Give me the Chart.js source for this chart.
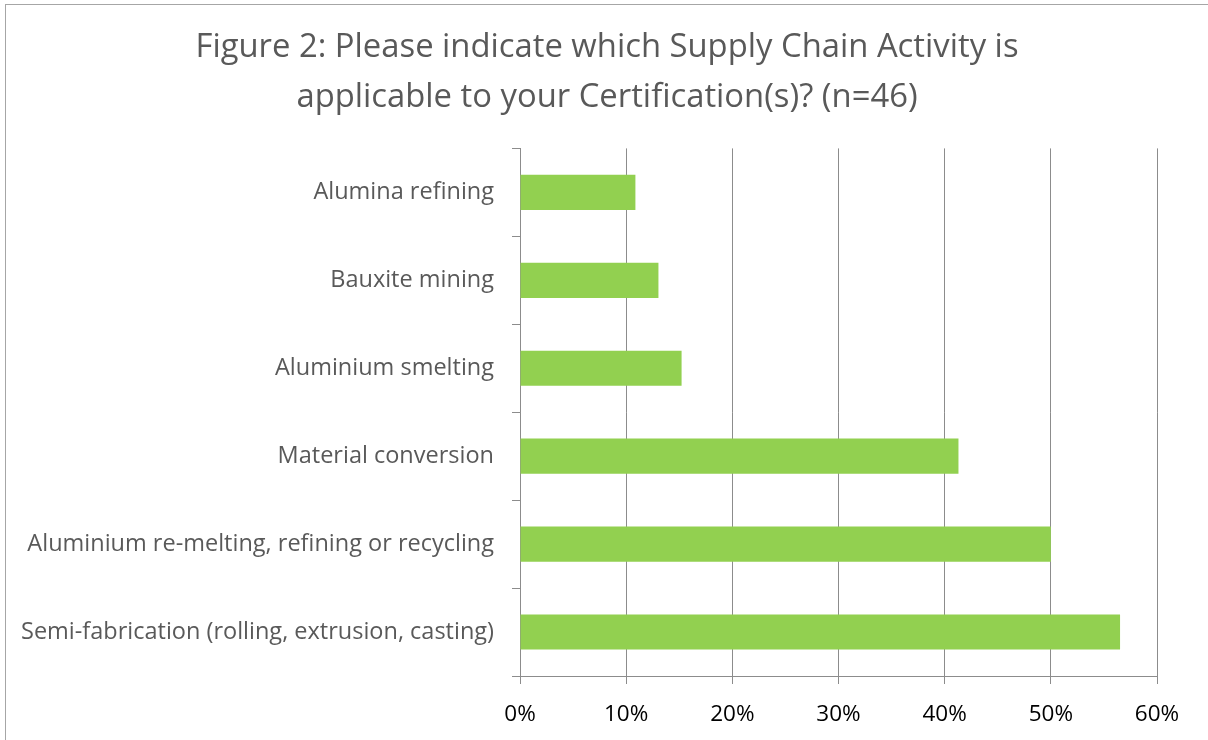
<!DOCTYPE html>
<html>
<head>
<meta charset="utf-8">
<script src="https://cdn.jsdelivr.net/npm/chart.js@4"></script>
<style>
  html, body { margin: 0; padding: 0; background: #fff; }
  #wrap { position: relative; width: 1208px; height: 740px; }
  #frame { position: absolute; left: 5px; top: 4px; right: 0; bottom: 0;
           border-left: 1px solid #a6a6a6; border-top: 1px solid #a6a6a6; }
  canvas { position: absolute; left: 0; top: 0; }
</style>
</head>
<body>
<div id="wrap">
  <div id="frame"></div>
  <canvas id="activity-bar-chart" width="1208" height="740"></canvas>
</div>
<script>
var categories = [
    'Alumina refining',
    'Bauxite mining',
    'Aluminium smelting',
    'Material conversion',
    'Aluminium re-melting, refining or recycling',
    'Semi-fabrication (rolling, extrusion, casting)',
];
var shares = [10.87, 13.04, 15.22, 41.30, 50.00, 56.52];
var xTicks = [0, 10, 20, 30, 40, 50, 60];

var gridGrey = '#8c8c8c';
var fontFamily = "'Open Sans', 'Noto Sans', sans-serif";

// shift the title box so it is centred like the original (not over the padded area)
var titleShift = {
    id: 'titleShift',
    afterLayout: function (chart) {
        var t = chart.titleBlock;
        if (t) {
            t.left = 57;
            t.width = t.right - t.left;
        }
    }
};

var layout = {
    type: 'bar',
    data: {
        labels: categories,
        datasets: [{
            label: 'share',
            data: shares,
            backgroundColor: '#92d050',
            barPercentage: 0.4,
            categoryPercentage: 1.0,
        }]
    },
    options: {
        indexAxis: 'y',
        responsive: false,
        animation: false,
        layout: {
            padding: { left: 0, right: 51, top: 0, bottom: 0 }
        },
        plugins: {
            legend: { display: false },
            tooltip: { enabled: false },
            title: {
                display: true,
                text: ['Figure 2: Please indicate which Supply Chain Activity is',
                       'applicable to your Certification(s)? (n=46)'],
                color: '#595959',
                font: { family: fontFamily, size: 32.8, weight: 'normal', lineHeight: 1.5 },
                padding: { top: 23.5, bottom: 26.5 }
            }
        },
        scales: {
            x: {
                min: 0,
                max: 60,
                afterBuildTicks: function (scale) {
                    scale.ticks = xTicks.map(function (v) { return { value: v }; });
                },
                afterFit: function (scale) { scale.height = 64; },
                grid: {
                    color: gridGrey,
                    tickLength: 8,
                    drawOnChartArea: true
                },
                border: { color: gridGrey },
                ticks: {
                    color: '#000',
                    padding: 17,
                    font: { family: fontFamily, size: 22.5 },
                    callback: function (v) { return v + '%'; }
                }
            },
            y: {
                afterFit: function (scale) { scale.width = 520; },
                grid: {
                    color: gridGrey,
                    tickLength: 8,
                    drawOnChartArea: false,
                    offset: true
                },
                border: { color: gridGrey },
                ticks: {
                    color: '#595959',
                    padding: 18,
                    font: { family: fontFamily, size: 23.5 }
                }
            }
        }
    },
    plugins: [titleShift]
};

new Chart(document.getElementById('activity-bar-chart'), layout);
</script>
</body>
</html>
